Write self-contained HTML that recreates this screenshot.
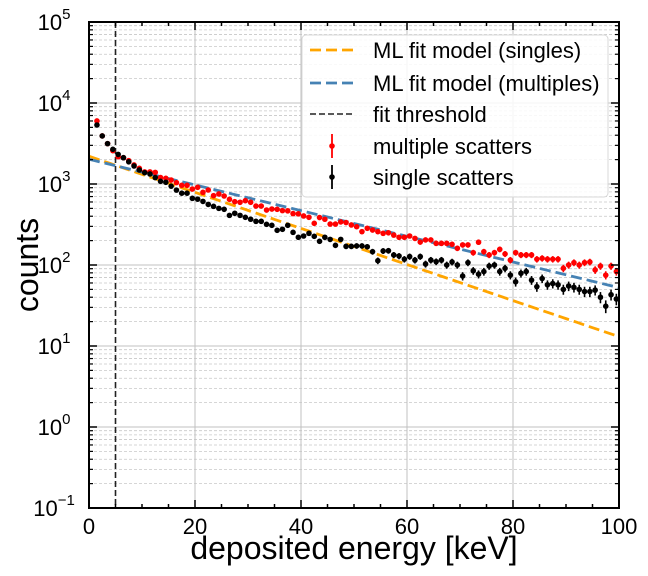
<!DOCTYPE html>
<html><head><meta charset="utf-8"><style>
html,body{margin:0;padding:0;background:#fff;}
svg{display:block;font-family:"Liberation Sans",sans-serif;}
</style></head><body>
<svg id="chart" width="648" height="576" viewBox="0 0 648 576" xmlns="http://www.w3.org/2000/svg"></svg>
<script>
const xStart = 1.5;
const singles = [5350,3920,3150,2680,2320,2110,1880,1670,1490,1380,1330,1200,1080,1050,940,840,770,770,665,650,610,560,530,500,487,410,435,410,388,367,346,346,318,309,268,276,309,253,220,228,246,226,196,220,207,175,207,170,170,
172,172,168,146,113,149,150,133,129,118,127,115,127,103,115,110,115,100,109,100,73,107,85,77,83,97,100,83,91,75,62,79,83,65,54,68,57,59,57,50,55,53,50,47,47,49,40,31,43,38];
const multiples = [6000,3920,3150,2580,2170,2110,1940,1720,1560,1410,1410,1390,1200,1175,1120,1040,963,963,867,910,789,843,718,753,711,647,605,595,622,595,534,534,477,491,487,469,466,431,428,403,388,327,385,367,320,320,340,334,312,
297,258,284,270,258,246,250,234,220,220,228,213,192,204,204,185,185,185,180,161,177,177,142,191,146,133,142,156,137,115,142,133,133,133,118,121,118,118,118,91,100,107,100,107,109,87,97,75,97,83];
const fitSingles = [2200, 19.5];   // amplitude, decay (keV)
const fitMultiples = [2020, 27.4];
const threshold = [5];
const xTicks = [0,20,40,60,80,100];
const yDecades = [-1,0,1,2,3,4,5];

const L=89,R=619,T=22,B=508;
const X=v=>L+(v-0)/(100-0)*(R-L);
const Y=v=>B-(Math.log10(v)-(-1))/6*(B-T);
const NS="http://www.w3.org/2000/svg";
const svg=document.getElementById('chart');
function mk(tag,attrs,parent){const e=document.createElementNS(NS,tag);for(const k in attrs)e.setAttribute(k,attrs[k]);(parent||svg).appendChild(e);return e;}

// grid
const grid=mk('g',{});


for(let d=-1;d<5;d++){for(let m=2;m<=9;m++){const y=Y(m*Math.pow(10,d));mk('line',{x1:L,x2:R,y1:y,y2:y,stroke:'#c8c8c8','stroke-width':0.8,'stroke-dasharray':'3,2'},grid);}}
yDecades.forEach(d=>{const y=Y(Math.pow(10,d));mk('line',{x1:L,x2:R,y1:y,y2:y,stroke:'#c0c0c0','stroke-width':1},grid);});
xTicks.forEach(t=>{const x=X(t);mk('line',{x1:x,x2:x,y1:T,y2:B,stroke:'#c0c0c0','stroke-width':1},grid);});

// threshold
const th=mk('line',{x1:X(threshold[0]),x2:X(threshold[0]),y1:T,y2:B,stroke:'#222','stroke-width':1.6,'stroke-dasharray':'6,3'});



// fits
function fitPath(p){let d='';for(let i=0;i<=100;i++){const v=p[0]*Math.exp(-i/p[1]);d+=(i?'L':'M')+X(i).toFixed(2)+','+Y(v).toFixed(2);}return d;}
const fs=mk('path',{d:fitPath(fitSingles),fill:'none',stroke:'#ffa500','stroke-width':2.8,'stroke-dasharray':'11,5'});


const fm=mk('path',{d:fitPath(fitMultiples),fill:'none',stroke:'#4682b4','stroke-width':2.8,'stroke-dasharray':'11,5'});



// points
function series(arr,color,name){const g=mk('g',{});


arr.forEach((v,i)=>{const x=X(xStart+i);const e=Math.sqrt(v);
mk('line',{x1:x,x2:x,y1:Y(v+e),y2:Y(Math.max(v-e,0.01)),stroke:color,'stroke-width':1.6},g);
const c=mk('circle',{cx:x,cy:Y(v),r:2.8,fill:color},g);

});}
series(multiples,'#ff0000','multiple-scatters');
series(singles,'#000000','single-scatters');

// axes frame
const fr=mk('rect',{x:L,y:T,width:R-L,height:B-T,fill:'none',stroke:'#000','stroke-width':2});


// ticks
const tk=mk('g',{stroke:'#000'});


for(let t=0;t<=100;t+=5){const x=X(t);const len=t%20===0?8:4;mk('line',{x1:x,x2:x,y1:B,y2:B-len,'stroke-width':1.5},tk);mk('line',{x1:x,x2:x,y1:T,y2:T+len,'stroke-width':1.5},tk);}
for(let d=-1;d<5;d++){for(let m=2;m<=9;m++){const y=Y(m*Math.pow(10,d));mk('line',{x1:L,x2:L+4,y1:y,y2:y,'stroke-width':1.2},tk);mk('line',{x1:R,x2:R-4,y1:y,y2:y,'stroke-width':1.2},tk);}}
yDecades.forEach(d=>{const y=Y(Math.pow(10,d));mk('line',{x1:L,x2:L+8,y1:y,y2:y,'stroke-width':1.5},tk);mk('line',{x1:R,x2:R-8,y1:y,y2:y,'stroke-width':1.5},tk);});
// tick labels
xTicks.forEach(t=>{const tx=mk('text',{x:X(t),y:B+26,'font-size':22,'text-anchor':'middle'});tx.textContent=t;

});
yDecades.forEach(d=>{const y=Y(Math.pow(10,d));const tx=mk('text',{x:L-35,y:y+8,'font-size':22,'text-anchor':'middle'});


const b=mk('tspan',{},tx);b.textContent='10';const s=mk('tspan',{dy:-11,'font-size':15},tx);s.textContent=d===-1?'\u22121':String(d);});
// axis titles
const xt=mk('text',{x:354,y:559,'font-size':32,'text-anchor':'middle'});xt.textContent='deposited energy [keV]';


const yt=mk('text',{x:0,y:0,'font-size':32,'text-anchor':'middle',transform:'translate(38,265) rotate(-90)'});yt.textContent='counts';



// legend
const lg=mk('g',{});


mk('rect',{x:302,y:35,width:306,height:162,rx:4,fill:'rgba(255,255,255,0.85)',stroke:'#d8d8d8','stroke-width':1},lg);
const entries=[['ML fit model (singles)','line','#ffa500',50],['ML fit model (multiples)','line','#4682b4',83],['fit threshold','thin','#222',114],['multiple scatters','pt','#ff0000',146],['single scatters','pt','#000',177]];
entries.forEach(en=>{const g=mk('g',{},lg);


const y=en[3];
if(en[1]==='line')mk('line',{x1:310,x2:354,y1:y,y2:y,stroke:en[2],'stroke-width':2.8,'stroke-dasharray':'11,5'},g);
else if(en[1]==='thin')mk('line',{x1:310,x2:354,y1:y,y2:y,stroke:en[2],'stroke-width':1.5,'stroke-dasharray':'6,3'},g);
else{mk('line',{x1:332,x2:332,y1:y-12,y2:y+12,stroke:en[2],'stroke-width':1.8},g);mk('circle',{cx:332,cy:y,r:2.8,fill:en[2]},g);}
const t=mk('text',{x:373,y:y+8,'font-size':22},g);t.textContent=en[0];});
</script>
</body></html>
